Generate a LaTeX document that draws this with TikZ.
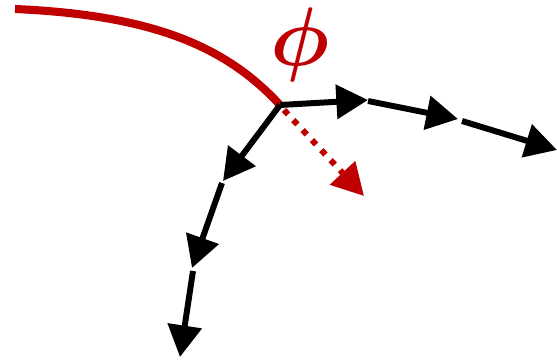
\documentclass[tikz,border=0pt]{standalone}
\usepackage{amsmath}
\usetikzlibrary{arrows.meta}

\begin{document}
\begin{tikzpicture}[
        x=0.02cm,
        y=-0.02cm,
        trailline/.style={
            line width=4.6pt,
            red!75!black
        },
        steparrow/.style={
            -{Triangle[length=18pt, width=19pt]},
            line width=3.4pt,
            black
        },
        normalarrow/.style={
            -{Triangle[length=18pt, width=19pt]},
            line width=3.4pt,
            red!75!black,
            dash pattern=on 3.4pt off 4.4pt
        },
        anglelabel/.style={
            font=\Huge,
            red!75!black
        }
    ]

        \useasboundingbox (0,0) rectangle (557,362);

        % ---------------------------------------------------------------------
        % Points of the path
        % ---------------------------------------------------------------------

        \coordinate (start) at (15,9);
        \coordinate (junction) at (280,105);
        \coordinate (right1) at (368,100);
        \coordinate (right2s) at (368,101);
        \coordinate (right2) at (458,119);
        \coordinate (right3s) at (462,121);
        \coordinate (right3) at (557,150);
        \coordinate (down1) at (223,181);
        \coordinate (down2s) at (222,183);
        \coordinate (down2) at (192,268);
        \coordinate (down3s) at (193,271);
        \coordinate (down3) at (180,357);
        \coordinate (normalstart) at (284,110);
        \coordinate (normalend) at (364,196);

        % ---------------------------------------------------------------------
        % Incoming curve
        % ---------------------------------------------------------------------

        \draw[trailline]
            (start) .. controls (150,15) and (225,45) .. (junction);

        \node[anglelabel] (phi) at (300,45)
            {\scalebox{1.9}{$\boldsymbol{\phi}$}};

        % ---------------------------------------------------------------------
        % Outgoing steps
        % ---------------------------------------------------------------------

        \draw[normalarrow] (normalstart) -- (normalend);

        \draw[steparrow] (junction) -- (right1);
        \draw[steparrow] (right2s) -- (right2);
        \draw[steparrow] (right3s) -- (right3);

        \draw[steparrow] (junction) -- (down1);
        \draw[steparrow] (down2s) -- (down2);
        \draw[steparrow] (down3s) -- (down3);

    \end{tikzpicture}
\end{document}
